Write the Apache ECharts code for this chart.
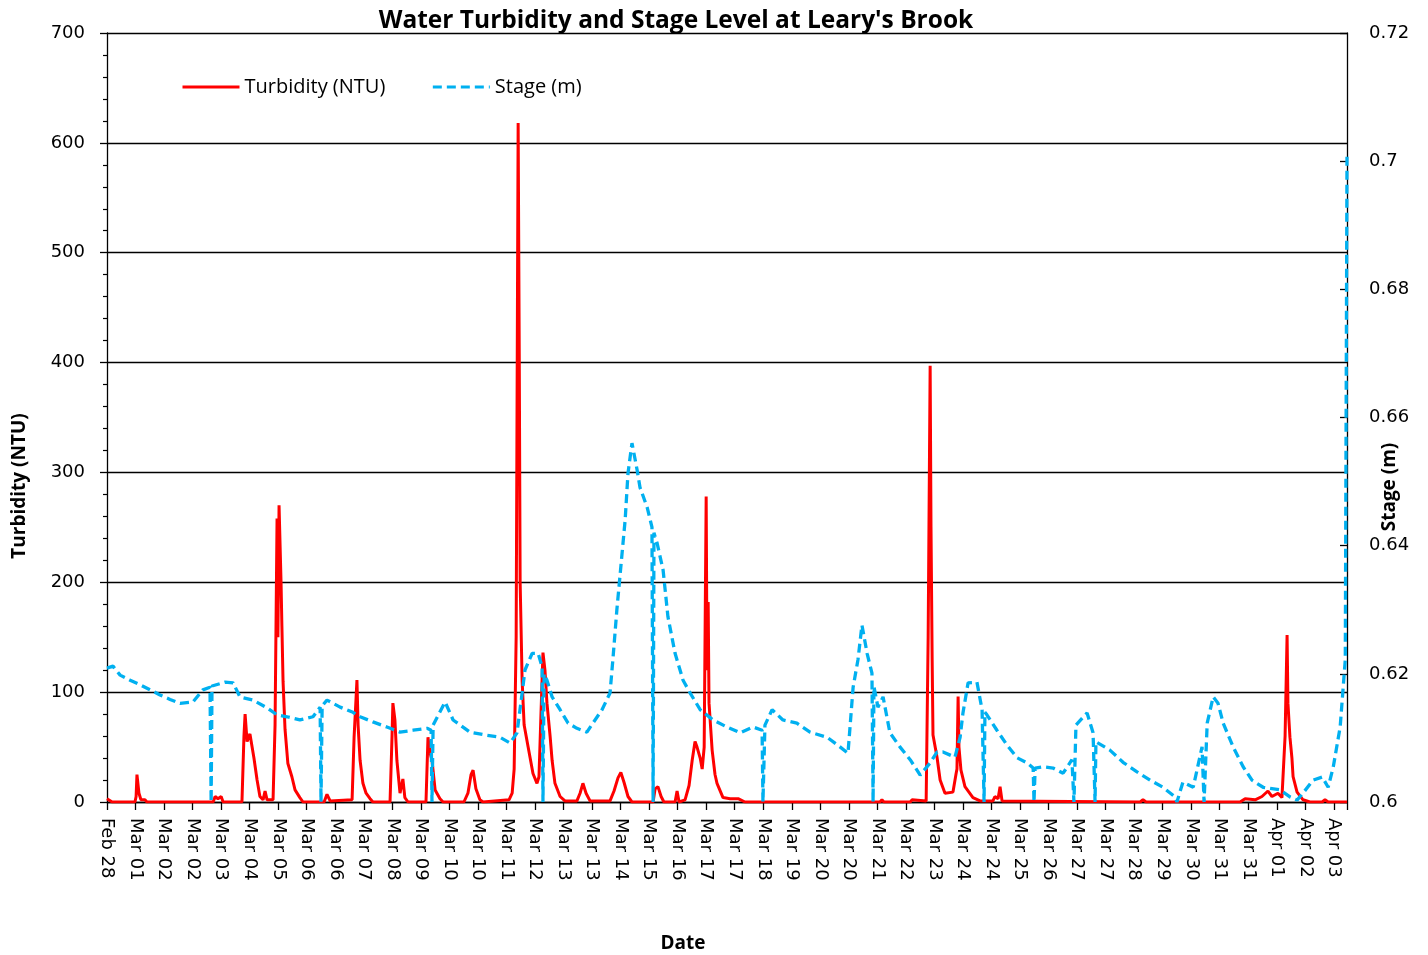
<!DOCTYPE html>
<html>

<head>
    <meta charset="utf-8">
    <script src="https://cdn.jsdelivr.net/npm/echarts@6/dist/echarts.min.js"></script>
</head>

<body style="height: 100%; margin: 0; background: #fff">
    <div id="container" style="height:955px;width:1428px"></div>
    <script type="text/javascript">
        // x is measured in label steps: 0 = "Feb 28", 1 = next label, ...
        var xLabels = ['Feb 28', 'Mar 01', 'Mar 02', 'Mar 02', 'Mar 03', 'Mar 04', 'Mar 05', 'Mar 06', 'Mar 06',
            'Mar 07', 'Mar 08', 'Mar 09', 'Mar 10', 'Mar 10', 'Mar 11', 'Mar 12', 'Mar 13', 'Mar 13', 'Mar 14',
            'Mar 15', 'Mar 16', 'Mar 17', 'Mar 17', 'Mar 18', 'Mar 19', 'Mar 20', 'Mar 20', 'Mar 21', 'Mar 22',
            'Mar 23', 'Mar 24', 'Mar 24', 'Mar 25', 'Mar 26', 'Mar 27', 'Mar 27', 'Mar 28', 'Mar 29', 'Mar 30',
            'Mar 31', 'Mar 31', 'Apr 01', 'Apr 02', 'Apr 03'];
        var xEnd = 43.46;

        var turbidity = [
            [0, 3], [0.18, 0], [0.98, 0], [1.02, 5], [1.05, 25], [1.12, 8], [1.19, 2], [1.33, 2], [1.40, 0],
            [3.72, 0], [3.79, 5], [3.89, 3], [4.00, 5], [4.07, 0],
            [4.73, 0], [4.80, 60], [4.84, 80], [4.91, 55], [5.01, 62], [5.08, 63], [5.15, 40], [5.26, 20],
            [5.36, 5], [5.47, 2], [5.54, 10], [5.61, 2], [5.82, 2],
            [5.89, 70], [5.96, 258], [5.99, 150], [6.03, 270], [6.10, 200], [6.13, 160], [6.17, 110],
            [6.24, 66], [6.34, 35], [6.48, 23], [6.59, 11], [6.76, 4], [6.87, 0],
            [7.61, 0], [7.71, 7], [7.82, 1], [8.59, 2],
            [8.66, 59], [8.73, 95], [8.76, 111], [8.80, 70], [8.87, 38], [8.97, 17], [9.08, 8], [9.22, 3], [9.32, 0],
            [9.92, 0], [9.99, 60], [10.02, 90], [10.09, 75], [10.16, 38], [10.27, 8], [10.37, 21], [10.44, 4], [10.55, 0],
            [11.18, 0], [11.25, 59], [11.32, 45], [11.39, 38], [11.50, 11], [11.67, 3], [11.78, 0],
            [12.51, 0], [12.65, 8], [12.76, 25], [12.83, 29], [12.93, 12], [13.07, 2], [13.18, 0],
            [14.09, 2], [14.20, 8], [14.27, 30], [14.34, 150], [14.41, 618], [14.45, 400], [14.48, 200],
            [14.55, 110], [14.62, 70], [14.76, 50], [14.93, 26], [15.07, 17], [15.14, 23],
            [15.21, 80], [15.28, 136], [15.35, 120], [15.42, 90], [15.53, 60], [15.60, 38], [15.70, 17],
            [15.88, 5], [16.05, 1],
            [16.47, 1], [16.58, 8], [16.68, 17], [16.79, 8], [16.93, 1],
            [17.63, 1], [17.77, 10], [17.91, 22], [18.01, 27], [18.12, 18], [18.26, 5], [18.40, 0],
            [19.14, 0], [19.21, 12], [19.31, 14], [19.42, 5], [19.52, 0],
            [19.91, 0], [19.98, 10], [20.05, 0], [20.26, 2],
            [20.40, 15], [20.51, 38], [20.61, 55], [20.68, 50], [20.79, 40], [20.86, 30], [20.93, 50],
            [21.00, 278], [21.03, 120], [21.07, 182], [21.10, 90], [21.21, 47], [21.31, 25], [21.38, 17],
            [21.59, 4], [21.84, 3], [22.12, 3], [22.36, 0],
            [27.09, 0], [27.16, 2], [27.23, 0], [28.15, 0], [28.22, 2], [28.71, 1],
            [28.78, 150], [28.85, 397], [28.88, 250], [28.92, 130], [28.95, 61], [29.09, 41], [29.20, 20],
            [29.37, 8], [29.65, 9], [29.76, 26], [29.79, 30], [29.83, 96], [29.86, 50], [29.93, 29],
            [30.07, 14], [30.35, 4], [30.60, 1],
            [31.05, 1], [31.12, 5], [31.23, 3], [31.30, 14], [31.37, 1],
            [36.21, 0], [36.31, 2], [36.42, 0],
            [39.71, 0], [39.89, 3], [40.24, 2], [40.48, 5], [40.69, 10], [40.83, 5], [41.04, 8], [41.18, 4],
            [41.29, 60], [41.36, 152], [41.39, 90], [41.46, 59], [41.53, 40], [41.57, 23], [41.71, 9],
            [41.92, 2], [42.16, 0], [42.59, 0], [42.69, 2], [42.80, 0], [43.46, 0]
        ];

        var stage = [
            [0.00, 0.6209], [0.21, 0.6212], [0.46, 0.6198], [0.81, 0.6190], [1.16, 0.6183], [1.51, 0.6175],
            [1.86, 0.6167], [2.21, 0.6160], [2.56, 0.6154], [3.01, 0.6156], [3.36, 0.6175], [3.61, 0.6179],
            [3.65, 0.6], [3.68, 0.6181], [4.14, 0.6187], [4.42, 0.6186], [4.66, 0.6164], [5.12, 0.6159],
            [5.61, 0.6147], [5.96, 0.6136], [6.31, 0.6133], [6.76, 0.6128], [7.22, 0.6133], [7.47, 0.6148],
            [7.50, 0.6], [7.54, 0.6150], [7.71, 0.6159], [8.17, 0.6148], [8.62, 0.6140], [8.87, 0.6133],
            [9.32, 0.6125], [9.81, 0.6117], [10.27, 0.6109], [10.73, 0.6112], [11.22, 0.6115], [11.36, 0.6112],
            [11.39, 0.6], [11.43, 0.6120], [11.85, 0.6156], [12.13, 0.6128], [12.72, 0.6109], [13.32, 0.6104],
            [13.77, 0.6101], [14.13, 0.6092], [14.37, 0.6108], [14.55, 0.6170], [14.65, 0.6206], [14.90, 0.6232],
            [15.11, 0.6232], [15.25, 0.6211], [15.28, 0.6], [15.32, 0.6200], [15.42, 0.6190], [15.60, 0.6164],
            [15.88, 0.6144], [16.16, 0.6123], [16.47, 0.6115], [16.82, 0.6109], [17.03, 0.6123], [17.35, 0.6144],
            [17.63, 0.6170], [17.73, 0.6222], [17.87, 0.6300], [18.16, 0.6440], [18.26, 0.6513], [18.40, 0.6560],
            [18.58, 0.6518], [18.68, 0.6491], [18.93, 0.6460], [19.10, 0.6429], [19.14, 0.6], [19.17, 0.6420],
            [19.28, 0.6404], [19.49, 0.6362], [19.66, 0.6289], [19.91, 0.6232], [20.19, 0.6190], [20.44, 0.6170],
            [20.79, 0.6144], [21.24, 0.6128], [21.73, 0.6117], [22.19, 0.6108], [22.64, 0.6117], [22.96, 0.6112],
            [22.99, 0.6], [23.06, 0.6120], [23.31, 0.6144], [23.69, 0.6128], [24.18, 0.6123], [24.64, 0.6109],
            [25.24, 0.6101], [25.69, 0.6086], [25.97, 0.6076], [26.15, 0.6179], [26.32, 0.6222], [26.46, 0.6276],
            [26.64, 0.6232], [26.81, 0.6201], [26.85, 0.6], [26.88, 0.6180], [27.02, 0.6148], [27.20, 0.6164],
            [27.44, 0.6108], [27.79, 0.6086], [28.15, 0.6066], [28.50, 0.6042], [28.85, 0.6061], [29.09, 0.6078],
            [29.30, 0.6078], [29.72, 0.6070], [29.90, 0.6101], [30.00, 0.6139], [30.18, 0.6186], [30.49, 0.6187],
            [30.67, 0.6144], [30.74, 0.6], [30.77, 0.6140], [30.84, 0.6136], [31.19, 0.6112], [31.54, 0.6089],
            [31.90, 0.6069], [32.25, 0.6061], [32.46, 0.6053], [32.49, 0.6], [32.53, 0.6053], [32.81, 0.6055],
            [33.16, 0.6053], [33.51, 0.6045], [33.82, 0.6066], [33.89, 0.6], [33.96, 0.6120], [34.03, 0.6117],
            [34.35, 0.6139], [34.56, 0.6108], [34.63, 0.6], [34.66, 0.6094], [34.73, 0.6094], [35.15, 0.6081],
            [35.61, 0.6062], [36.10, 0.6047], [36.56, 0.6034], [37.01, 0.6023], [37.43, 0.6008], [37.50, 0.6000],
            [37.71, 0.6031], [38.07, 0.6023], [38.38, 0.6086], [38.45, 0.6], [38.56, 0.6123], [38.77, 0.6164],
            [38.94, 0.6154], [39.12, 0.6123], [39.47, 0.6086], [39.82, 0.6055], [40.13, 0.6034], [40.52, 0.6023],
            [41.11, 0.6019], [41.46, 0.6008], [41.71, 0.6003], [41.92, 0.6014], [42.27, 0.6034], [42.59, 0.6039],
            [42.80, 0.6023], [42.98, 0.6055], [43.22, 0.6117], [43.40, 0.6222], [43.46, 0.7008]
        ];

        var dom = document.getElementById("container");
        var myChart = echarts.init(dom);
        var labelFont = { fontFamily: 'DejaVu Sans', fontSize: 18, color: '#000' };
        var titleFont = 'Open Sans';
        var option = {
            animation: false,
            backgroundColor: '#fff',
            grid: { left: 107, right: 81, top: 33, bottom: 153 },
            legend: {
                left: 176, top: 72,
                itemWidth: 57, itemHeight: 14, itemGap: 46,
                itemStyle: { opacity: 0 },
                lineStyle: { width: 3 },
                textStyle: { fontFamily: titleFont, fontSize: 20, color: '#000' },
                data: ['Turbidity (NTU)', 'Stage (m)']
            },
            graphic: [
                { type: 'text', x: 676, y: 21, style: { text: "Water Turbidity and Stage Level at Leary's Brook",
                    font: 'bold 24.5px "Open Sans"', fill: '#000', textAlign: 'center', textVerticalAlign: 'middle' } },
                { type: 'text', x: 20, y: 486, rotation: Math.PI / 2, style: { text: 'Turbidity (NTU)',
                    font: 'bold 19px "Open Sans"', fill: '#000', textAlign: 'center', textVerticalAlign: 'middle' } },
                { type: 'text', x: 1390, y: 487, rotation: Math.PI / 2, style: { text: 'Stage (m)',
                    font: 'bold 19px "Open Sans"', fill: '#000', textAlign: 'center', textVerticalAlign: 'middle' } },
                { type: 'text', x: 683, y: 944, style: { text: 'Date',
                    font: 'bold 19px "Open Sans"', fill: '#000', textAlign: 'center', textVerticalAlign: 'middle' } }
            ],
            xAxis: {
                type: 'value', min: 0, max: xEnd, interval: 1,
                axisLine: { lineStyle: { color: '#000', width: 1.3 } },
                axisTick: { length: 8, lineStyle: { color: '#000', width: 1.3 } },
                splitLine: { show: false },
                axisLabel: Object.assign({}, labelFont, {
                    rotate: -90, margin: 16, hideOverlap: false,
                    formatter: function (v) {
                        return Number.isInteger(v) && xLabels[v] ? xLabels[v] : '';
                    }
                })
            },
            yAxis: [{
                type: 'value', min: 0, max: 700, interval: 100,
                axisLine: { show: true, lineStyle: { color: '#000', width: 1.3 } },
                axisTick: { show: true, length: 7, lineStyle: { color: '#000', width: 1.3 } },
                minorTick: { show: true, splitNumber: 5, length: 4, lineStyle: { color: '#000', width: 1.2 } },
                splitLine: { lineStyle: { color: '#000', width: 1.4 } },
                axisLabel: Object.assign({}, labelFont, { margin: 22 })
            }, {
                type: 'value', min: 0.6, max: 0.72, interval: 0.02,
                position: 'right',
                axisLine: { show: true, lineStyle: { color: '#000', width: 1.3 } },
                axisTick: { show: true, inside: true, length: 7, lineStyle: { color: '#000', width: 1.3 } },
                splitLine: { show: false },
                axisLabel: Object.assign({}, labelFont, { margin: 22 })
            }],
            series: [{
                name: 'Turbidity (NTU)',
                type: 'line',
                yAxisIndex: 0,
                symbol: 'none',
                color: '#ff0000',
                lineStyle: { width: 3, color: '#ff0000' },
                data: turbidity
            }, {
                name: 'Stage (m)',
                type: 'line',
                yAxisIndex: 1,
                symbol: 'none',
                color: '#00b0f0',
                lineStyle: { width: 3.3, color: '#00b0f0', type: [9, 5] },
                data: stage
            }]
        };

        if (option && typeof option === "object") {
            myChart.setOption(option, true);
        }
    </script>
</body>

</html>
